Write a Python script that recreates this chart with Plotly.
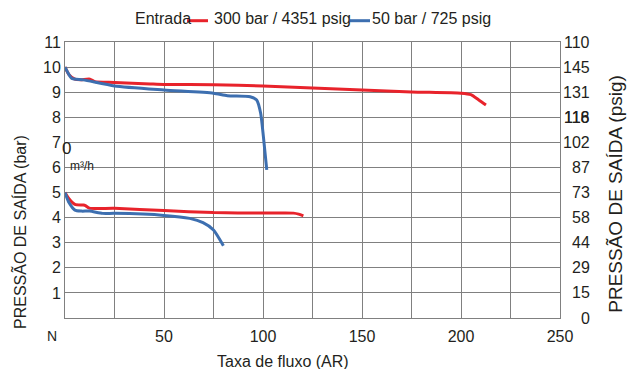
import plotly.graph_objects as go

# ---- data ----
red_hi_x = [0, 2, 5, 8, 12.6, 15, 25, 43, 50, 75, 100, 125, 150, 175, 200, 205, 209, 212.6]
red_hi_y = [10, 9.7, 9.52, 9.5, 9.52, 9.42, 9.39, 9.33, 9.31, 9.3, 9.25, 9.17, 9.09, 9.01, 8.96, 8.9, 8.69, 8.49]

blue_hi_x = [0, 2, 3.4, 9.3, 25, 50, 75, 82, 93.5, 96.8, 98.8, 100.2, 101.9]
blue_hi_y = [10, 9.7, 9.55, 9.49, 9.25, 9.09, 8.96, 8.86, 8.82, 8.69, 8.17, 7.23, 5.9]

red_lo_x = [0, 2, 5, 9.3, 10.3, 12.3, 25, 50, 75, 100, 115.4, 118, 120.4]
red_lo_y = [5, 4.75, 4.53, 4.5, 4.48, 4.38, 4.37, 4.28, 4.2, 4.18, 4.18, 4.14, 4.07]

blue_lo_x = [0, 2, 5, 8.3, 12.4, 19, 25, 50, 63, 69.7, 75, 80]
blue_lo_y = [5, 4.6, 4.3, 4.26, 4.26, 4.17, 4.17, 4.09, 3.97, 3.8, 3.51, 2.88]

x_tickvals = [25, 50, 75, 100, 125, 150, 175, 200, 225, 250]
x_ticktext = ["", "50", "", "100", "", "150", "", "200", "", "250"]
left_tickvals = [1, 2, 3, 4, 5, 6, 7, 8, 9, 10, 11]
left_ticktext = ["1", "2", "3", "4", "5", "6", "7", "8", "9", "10", "11"]
right_tickvals = [0, 1, 2, 3, 4, 5, 6, 7, 8, 9, 10, 11]
right_ticktext = ["0", "15", "29", "44", "58", "73", "87", "102", "118", "131", "145", "110"]

legend_title = "Entrada"
series_names = ["300 bar / 4351 psig", "50 bar / 725 psig"]

RED = "#e8232b"
BLUE = "#3d6fb0"
TXT = "#231f20"
GRID = "#808080"
FONT = "Liberation Sans, Arial, sans-serif"

fig = go.Figure()
for xs, ys, col, nm in [
    (red_hi_x, red_hi_y, RED, series_names[0]),
    (red_lo_x, red_lo_y, RED, series_names[0]),
    (blue_hi_x, blue_hi_y, BLUE, series_names[1]),
    (blue_lo_x, blue_lo_y, BLUE, series_names[1]),
]:
    fig.add_trace(go.Scatter(x=xs, y=ys, mode="lines", name=nm, showlegend=False,
                             line=dict(color=col, width=3, shape="spline", smoothing=0.6)))

fig.update_layout(
    width=627, height=369,
    margin=dict(l=65, r=67, t=42, b=51),
    paper_bgcolor="white", plot_bgcolor="white",
    font=dict(family=FONT, size=16, color=TXT),
    xaxis=dict(range=[0, 250], tickmode="array", tickvals=x_tickvals, ticktext=x_ticktext,
               showgrid=True, gridcolor=GRID, gridwidth=1, zeroline=False,
               showline=True, linecolor=GRID, linewidth=1, mirror=True, ticks="",
               ticklabelstandoff=4, tickfont=dict(size=16, color=TXT)),
    yaxis=dict(range=[0, 11], tickmode="array", tickvals=left_tickvals, ticktext=left_ticktext,
               showgrid=True, gridcolor=GRID, gridwidth=1, zeroline=False,
               showline=True, linecolor=GRID, linewidth=1, mirror=True, ticks="",
               tickfont=dict(size=16, color=TXT)),
)

ann = []
# right-hand psig tick labels
for v, t in zip(right_tickvals, right_ticktext):
    ann.append(dict(x=1.0646, xref="paper", y=v, yref="y", text=t, showarrow=False,
                    xanchor="right", yanchor="middle", font=dict(size=16, color=TXT)))
ann.append(dict(x=1.0646, xref="paper", y=8, yref="y", text="116", showarrow=False,
                xanchor="right", yanchor="middle", font=dict(size=16, color=TXT)))
# axis titles
ann.append(dict(x=-0.0909, xref="paper", y=0.3116, yref="paper", text="PRESSÃO DE SAÍDA (bar)",
                textangle=-90, showarrow=False, xanchor="center", yanchor="middle",
                font=dict(size=16, color=TXT)))
ann.append(dict(x=1.113, xref="paper", y=0.45, yref="paper", text="PRESSÃO DE SAÍDA (psig)",
                textangle=-90, showarrow=False, xanchor="center", yanchor="middle",
                font=dict(size=19, color=TXT)))
ann.append(dict(x=0.4404, xref="paper", y=-0.158, yref="paper", text="Taxa de fluxo (AR)",
                showarrow=False, xanchor="center", yanchor="middle", font=dict(size=16, color=TXT)))
ann.append(dict(x=-0.026, xref="paper", y=-0.065, yref="paper", text="N",
                showarrow=False, xanchor="center", yanchor="middle", font=dict(size=14, color=TXT)))
ann.append(dict(x=1.0, xref="x", y=6.74, yref="y", text="0", showarrow=False,
                xanchor="center", yanchor="middle", font=dict(size=17, color=TXT)))
ann.append(dict(x=8.8, xref="x", y=6.06, yref="y", text="m³/h", showarrow=False,
                xanchor="center", yanchor="middle", font=dict(size=12, color=TXT)))
# legend-like header
ann.append(dict(x=(133 - 65) / 495, xref="paper", y=(318 - 18) / 276, yref="paper", text=legend_title,
                showarrow=False, xanchor="left", yanchor="middle", font=dict(size=16, color=TXT)))
ann.append(dict(x=(212 - 65) / 495, xref="paper", y=(318 - 18) / 276, yref="paper", text=series_names[0],
                showarrow=False, xanchor="left", yanchor="middle", font=dict(size=16, color=TXT)))
ann.append(dict(x=(370 - 65) / 495, xref="paper", y=(318 - 18) / 276, yref="paper", text=series_names[1],
                showarrow=False, xanchor="left", yanchor="middle", font=dict(size=16, color=TXT)))
fig.update_layout(annotations=ann)

shapes = [
    dict(type="line", xref="paper", yref="paper", x0=(187 - 65) / 495, x1=(208 - 65) / 495,
         y0=(318 - 20.7) / 276, y1=(318 - 20.7) / 276, line=dict(color=RED, width=3)),
    dict(type="line", xref="paper", yref="paper", x0=(350 - 65) / 495, x1=(370 - 65) / 495,
         y0=(318 - 20.7) / 276, y1=(318 - 20.7) / 276, line=dict(color=BLUE, width=3)),
]
fig.update_layout(shapes=shapes)

fig.write_html("out.html")
